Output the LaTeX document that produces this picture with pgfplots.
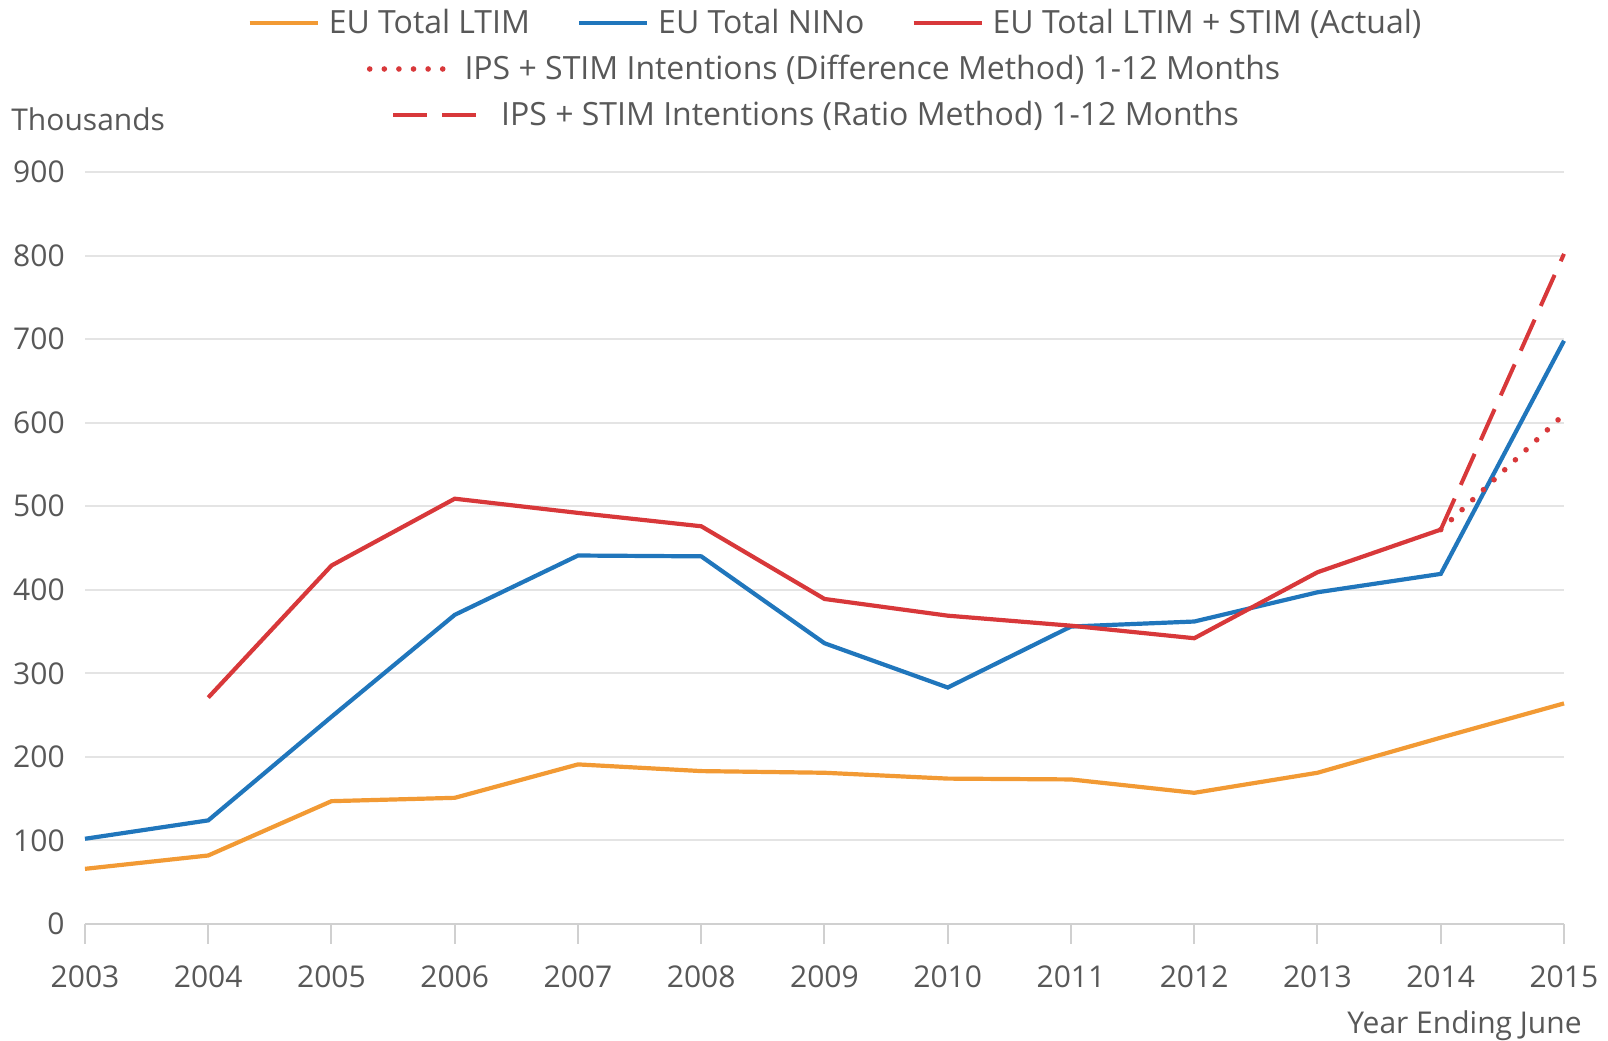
\documentclass[border=0pt]{standalone}
\usepackage{fontspec}
\setmainfont{Open Sans}
\usepackage{pgfplots}
\pgfplotsset{compat=1.18}
\definecolor{cOrange}{RGB}{242,154,52}
\definecolor{cBlue}{RGB}{32,118,188}
\definecolor{cRed}{RGB}{216,56,58}
\definecolor{cText}{RGB}{88,88,88}
\definecolor{cGrid}{RGB}{228,228,228}
\newcommand{\chartfont}{\fontsize{15}{18}\selectfont}
\newcommand{\legfont}{\fontsize{16}{19}\selectfont}
\pgfplotsset{
  base/.style={scale only axis, width=739.5pt, height=376pt,
    xmin=2003, xmax=2015, ymin=0, ymax=900},
  legbase/.style={legend style={draw=none, fill=none, font=\legfont, text=cText,
    at={(0.5,1)}, anchor=center, inner sep=0pt, outer sep=0pt, nodes={inner sep=0pt},
    /tikz/every even column/.append style={column sep=23.5pt}}},
  dotsty/.style={cRed, line width=2.8pt, line cap=round, dash pattern=on 0pt off 7.3pt},
  dashsty/.style={cRed, line width=2pt, dash pattern=on 17pt off 7.5pt},
}
\begin{document}
\begin{tikzpicture}
\begin{axis}[base, legbase, clip=false,
  legend columns=3,
  legend style={yshift=74.5pt, xshift=5pt,
    /tikz/every odd column/.append style={column sep=4.5pt}},
  legend image code/.code={\draw[#1] (0pt,0pt) -- (34pt,0pt);},
  separate axis lines,
  axis x line*=bottom, axis y line*=left,
  y axis line style={draw=none},
  x axis line style={draw=cGrid!80!gray, line width=1pt},
  ymajorgrids, grid style={cGrid, line width=1pt},
  ytick={0,100,...,900},
  xtick={2003,2004,...,2015},
  tick align=outside, major tick length=10pt,
  xtick style={draw=cGrid!80!gray, line width=1pt},
  ytick style={draw=none},
  /pgf/number format/1000 sep={},
  /pgf/number format/assume math mode=true,
  ticklabel style={font=\chartfont, text=cText},
  yticklabel style={anchor=east, inner sep=0pt, xshift=0pt},
  xticklabel style={anchor=base, inner sep=0pt, yshift=-22pt},
  ylabel={Thousands}, xlabel={Year Ending June},
  every axis y label/.style={at={(axis description cs:0,1)}, anchor=west, inner sep=0pt,
    xshift=-37pt, yshift=26.5pt, font=\chartfont, text=cText},
  every axis x label/.style={at={(axis description cs:1,0)}, anchor=east, inner sep=0pt,
    xshift=9pt, yshift=-51pt, font=\chartfont, text=cText},
]
\addplot[cOrange, line width=2.1pt] coordinates {
 (2003,66) (2004,82) (2005,147) (2006,151) (2007,191) (2008,183) (2009,181)
 (2010,174) (2011,173) (2012,157) (2013,181) (2014,223) (2015,264)};
\addlegendentry{EU Total LTIM}
\addplot[cBlue, line width=2.1pt] coordinates {
 (2003,102) (2004,124) (2005,248) (2006,370) (2007,441) (2008,440) (2009,336)
 (2010,283) (2011,356) (2012,362) (2013,397) (2014,419) (2015,698)};
\addlegendentry{EU Total NINo}
\addplot[cRed, line width=2.1pt] coordinates {
 (2004,271) (2005,429) (2006,509) (2007,492) (2008,476) (2009,389)
 (2010,369) (2011,357) (2012,342) (2013,421) (2014,472)};
\addlegendentry{EU Total LTIM + STIM (Actual)}
\addplot[dotsty, forget plot] coordinates {(2014,472) (2015,610)};
\addplot[dashsty, forget plot] coordinates {(2014,472) (2015,802)};
\path ([xshift=-42.5pt,yshift=-58.5pt]rel axis cs:0,0) rectangle ([xshift=22pt,yshift=86pt]rel axis cs:1,1);
\end{axis}
\begin{axis}[base, legbase, hide axis,
  legend style={yshift=51.5pt, xshift=-0.5pt,
    /tikz/every odd column/.append style={column sep=5pt}},
  legend image code/.code={\draw[#1] (0pt,0pt) -- (41pt,0pt);},
]
\addlegendimage{cRed, line width=2.8pt, line cap=round, dash pattern=on 0pt off 7.3pt}
\addlegendentry{IPS + STIM Intentions (Difference Method) 1-12 Months}
\end{axis}
\begin{axis}[base, legbase, hide axis,
  legend style={yshift=28.5pt, xshift=-4.75pt,
    /tikz/every odd column/.append style={column sep=11pt}},
  legend image code/.code={\draw[#1] (0pt,0pt) -- (42pt,0pt);},
]
\addlegendimage{cRed, line width=2pt, dash pattern=on 17pt off 7.5pt}
\addlegendentry{IPS + STIM Intentions (Ratio Method) 1-12 Months}
\end{axis}
\end{tikzpicture}
\end{document}
